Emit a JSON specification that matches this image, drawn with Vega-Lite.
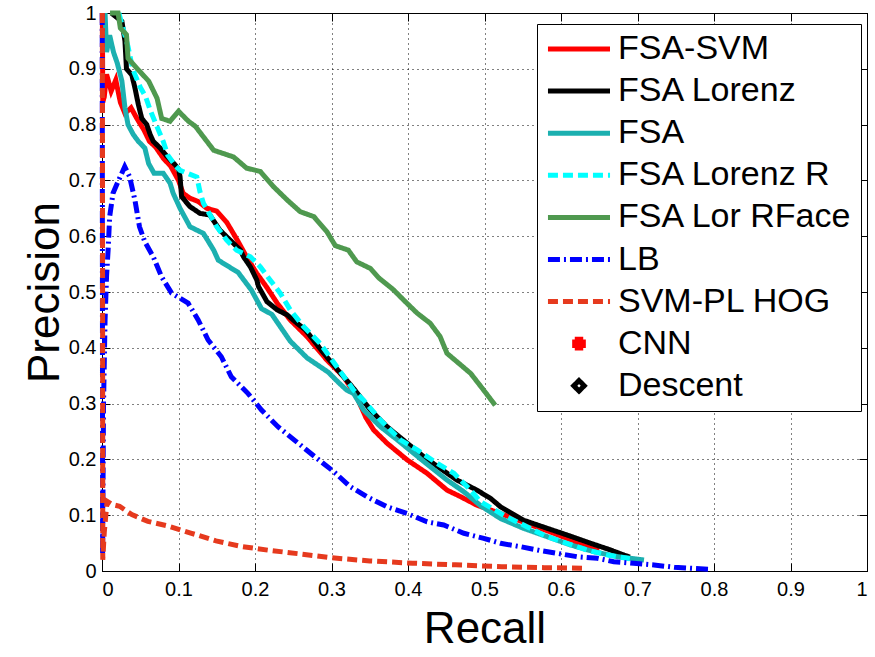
{
  "$schema": "https://vega.github.io/schema/vega-lite/v6.json",
  "width": 765,
  "height": 558,
  "autosize": "none",
  "padding": {"left": 102, "top": 13, "right": 8, "bottom": 86},
  "background": "white",
  "config": {
    "view": {"stroke": "black", "strokeWidth": 1},
    "axis": {
      "labelFont": "Liberation Sans", "labelFontSize": 20, "labelColor": "black",
      "titleFont": "Liberation Sans", "titleFontSize": 44, "titleFontWeight": "normal", "titleColor": "black",
      "domainColor": "black", "tickColor": "black", "tickSize": -8, "gridColor": "black", "gridDash": [1, 4], "gridOpacity": 1
    }
  },
  "data": {"values": [
    {"s":"FSA-SVM","x":0.0005,"y":1.0},{"s":"FSA-SVM","x":0.001,"y":0.84},{"s":"FSA-SVM","x":0.003,"y":0.85},{"s":"FSA-SVM","x":0.006,"y":0.89},{"s":"FSA-SVM","x":0.012,"y":0.86},{"s":"FSA-SVM","x":0.018,"y":0.88},{"s":"FSA-SVM","x":0.024,"y":0.84},{"s":"FSA-SVM","x":0.030,"y":0.82},{"s":"FSA-SVM","x":0.038,"y":0.83},{"s":"FSA-SVM","x":0.046,"y":0.81},{"s":"FSA-SVM","x":0.055,"y":0.79},{"s":"FSA-SVM","x":0.062,"y":0.77},{"s":"FSA-SVM","x":0.070,"y":0.76},{"s":"FSA-SVM","x":0.080,"y":0.74},{"s":"FSA-SVM","x":0.090,"y":0.725},{"s":"FSA-SVM","x":0.100,"y":0.70},{"s":"FSA-SVM","x":0.106,"y":0.677},{"s":"FSA-SVM","x":0.115,"y":0.668},{"s":"FSA-SVM","x":0.126,"y":0.662},{"s":"FSA-SVM","x":0.137,"y":0.650},{"s":"FSA-SVM","x":0.150,"y":0.645},{"s":"FSA-SVM","x":0.163,"y":0.625},{"s":"FSA-SVM","x":0.176,"y":0.595},{"s":"FSA-SVM","x":0.189,"y":0.563},{"s":"FSA-SVM","x":0.2025,"y":0.533},{"s":"FSA-SVM","x":0.2156,"y":0.508},{"s":"FSA-SVM","x":0.229,"y":0.480},{"s":"FSA-SVM","x":0.246,"y":0.45},{"s":"FSA-SVM","x":0.268,"y":0.42},{"s":"FSA-SVM","x":0.294,"y":0.378},{"s":"FSA-SVM","x":0.316,"y":0.348},{"s":"FSA-SVM","x":0.333,"y":0.312},{"s":"FSA-SVM","x":0.345,"y":0.275},{"s":"FSA-SVM","x":0.355,"y":0.253},{"s":"FSA-SVM","x":0.3726,"y":0.229},{"s":"FSA-SVM","x":0.399,"y":0.199},{"s":"FSA-SVM","x":0.425,"y":0.175},{"s":"FSA-SVM","x":0.451,"y":0.145},{"s":"FSA-SVM","x":0.469,"y":0.133},{"s":"FSA-SVM","x":0.490,"y":0.118},{"s":"FSA-SVM","x":0.521,"y":0.103},{"s":"FSA-SVM","x":0.556,"y":0.085},{"s":"FSA-SVM","x":0.59,"y":0.068},{"s":"FSA-SVM","x":0.62,"y":0.052},{"s":"FSA-SVM","x":0.65,"y":0.038},

    {"s":"FSA Lorenz","x":0.012,"y":1.0},{"s":"FSA Lorenz","x":0.026,"y":0.985},{"s":"FSA Lorenz","x":0.030,"y":0.95},{"s":"FSA Lorenz","x":0.032,"y":0.90},{"s":"FSA Lorenz","x":0.039,"y":0.889},{"s":"FSA Lorenz","x":0.043,"y":0.866},{"s":"FSA Lorenz","x":0.0475,"y":0.836},{"s":"FSA Lorenz","x":0.052,"y":0.811},{"s":"FSA Lorenz","x":0.0585,"y":0.80},{"s":"FSA Lorenz","x":0.063,"y":0.782},{"s":"FSA Lorenz","x":0.067,"y":0.77},{"s":"FSA Lorenz","x":0.076,"y":0.758},{"s":"FSA Lorenz","x":0.085,"y":0.743},{"s":"FSA Lorenz","x":0.0955,"y":0.728},{"s":"FSA Lorenz","x":0.100,"y":0.72},{"s":"FSA Lorenz","x":0.102,"y":0.707},{"s":"FSA Lorenz","x":0.104,"y":0.671},{"s":"FSA Lorenz","x":0.115,"y":0.653},{"s":"FSA Lorenz","x":0.128,"y":0.641},{"s":"FSA Lorenz","x":0.141,"y":0.638},{"s":"FSA Lorenz","x":0.154,"y":0.611},{"s":"FSA Lorenz","x":0.1675,"y":0.593},{"s":"FSA Lorenz","x":0.181,"y":0.575},{"s":"FSA Lorenz","x":0.185,"y":0.563},{"s":"FSA Lorenz","x":0.194,"y":0.545},{"s":"FSA Lorenz","x":0.2025,"y":0.521},{"s":"FSA Lorenz","x":0.2045,"y":0.51},{"s":"FSA Lorenz","x":0.2155,"y":0.483},{"s":"FSA Lorenz","x":0.229,"y":0.468},{"s":"FSA Lorenz","x":0.242,"y":0.459},{"s":"FSA Lorenz","x":0.255,"y":0.444},{"s":"FSA Lorenz","x":0.266,"y":0.432},{"s":"FSA Lorenz","x":0.290,"y":0.390},{"s":"FSA Lorenz","x":0.3115,"y":0.355},{"s":"FSA Lorenz","x":0.329,"y":0.327},{"s":"FSA Lorenz","x":0.351,"y":0.2885},{"s":"FSA Lorenz","x":0.3726,"y":0.2586},{"s":"FSA Lorenz","x":0.399,"y":0.229},{"s":"FSA Lorenz","x":0.4205,"y":0.205},{"s":"FSA Lorenz","x":0.442,"y":0.184},{"s":"FSA Lorenz","x":0.464,"y":0.163},{"s":"FSA Lorenz","x":0.490,"y":0.145},{"s":"FSA Lorenz","x":0.508,"y":0.130},{"s":"FSA Lorenz","x":0.521,"y":0.115},{"s":"FSA Lorenz","x":0.551,"y":0.091},{"s":"FSA Lorenz","x":0.582,"y":0.0765},{"s":"FSA Lorenz","x":0.608,"y":0.0645},{"s":"FSA Lorenz","x":0.639,"y":0.0496},{"s":"FSA Lorenz","x":0.665,"y":0.0376},{"s":"FSA Lorenz","x":0.682,"y":0.0287},{"s":"FSA Lorenz","x":0.69,"y":0.025},

    {"s":"FSA","x":0.004,"y":1.0},{"s":"FSA","x":0.006,"y":0.93},{"s":"FSA","x":0.010,"y":0.96},{"s":"FSA","x":0.015,"y":0.93},{"s":"FSA","x":0.020,"y":0.91},{"s":"FSA","x":0.026,"y":0.878},{"s":"FSA","x":0.030,"y":0.83},{"s":"FSA","x":0.034,"y":0.80},{"s":"FSA","x":0.041,"y":0.782},{"s":"FSA","x":0.0475,"y":0.77},{"s":"FSA","x":0.056,"y":0.758},{"s":"FSA","x":0.061,"y":0.73},{"s":"FSA","x":0.068,"y":0.713},{"s":"FSA","x":0.080,"y":0.713},{"s":"FSA","x":0.089,"y":0.695},{"s":"FSA","x":0.093,"y":0.677},{"s":"FSA","x":0.102,"y":0.65},{"s":"FSA","x":0.115,"y":0.617},{"s":"FSA","x":0.1326,"y":0.605},{"s":"FSA","x":0.146,"y":0.575},{"s":"FSA","x":0.152,"y":0.557},{"s":"FSA","x":0.178,"y":0.535},{"s":"FSA","x":0.1955,"y":0.503},{"s":"FSA","x":0.2085,"y":0.47},{"s":"FSA","x":0.222,"y":0.46},{"s":"FSA","x":0.230,"y":0.444},{"s":"FSA","x":0.246,"y":0.412},{"s":"FSA","x":0.268,"y":0.382},{"s":"FSA","x":0.296,"y":0.356},{"s":"FSA","x":0.309,"y":0.338},{"s":"FSA","x":0.320,"y":0.324},{"s":"FSA","x":0.329,"y":0.318},{"s":"FSA","x":0.342,"y":0.2885},{"s":"FSA","x":0.364,"y":0.2586},{"s":"FSA","x":0.386,"y":0.235},{"s":"FSA","x":0.4075,"y":0.211},{"s":"FSA","x":0.429,"y":0.187},{"s":"FSA","x":0.451,"y":0.163},{"s":"FSA","x":0.473,"y":0.142},{"s":"FSA","x":0.495,"y":0.117},{"s":"FSA","x":0.521,"y":0.094},{"s":"FSA","x":0.551,"y":0.0765},{"s":"FSA","x":0.582,"y":0.0615},{"s":"FSA","x":0.6126,"y":0.0466},{"s":"FSA","x":0.643,"y":0.0346},{"s":"FSA","x":0.674,"y":0.0256},{"s":"FSA","x":0.7085,"y":0.0197},

    {"s":"FSA Lorenz R","x":0.022,"y":1.0},{"s":"FSA Lorenz R","x":0.028,"y":0.97},{"s":"FSA Lorenz R","x":0.034,"y":0.94},{"s":"FSA Lorenz R","x":0.040,"y":0.90},{"s":"FSA Lorenz R","x":0.050,"y":0.867},{"s":"FSA Lorenz R","x":0.057,"y":0.85},{"s":"FSA Lorenz R","x":0.063,"y":0.826},{"s":"FSA Lorenz R","x":0.072,"y":0.796},{"s":"FSA Lorenz R","x":0.080,"y":0.77},{"s":"FSA Lorenz R","x":0.086,"y":0.745},{"s":"FSA Lorenz R","x":0.095,"y":0.728},{"s":"FSA Lorenz R","x":0.102,"y":0.718},{"s":"FSA Lorenz R","x":0.124,"y":0.706},{"s":"FSA Lorenz R","x":0.128,"y":0.68},{"s":"FSA Lorenz R","x":0.1326,"y":0.659},{"s":"FSA Lorenz R","x":0.150,"y":0.617},{"s":"FSA Lorenz R","x":0.163,"y":0.593},{"s":"FSA Lorenz R","x":0.176,"y":0.575},{"s":"FSA Lorenz R","x":0.194,"y":0.563},{"s":"FSA Lorenz R","x":0.207,"y":0.545},{"s":"FSA Lorenz R","x":0.220,"y":0.521},{"s":"FSA Lorenz R","x":0.233,"y":0.498},{"s":"FSA Lorenz R","x":0.246,"y":0.468},{"s":"FSA Lorenz R","x":0.2635,"y":0.438},{"s":"FSA Lorenz R","x":0.285,"y":0.408},{"s":"FSA Lorenz R","x":0.307,"y":0.366},{"s":"FSA Lorenz R","x":0.329,"y":0.324},{"s":"FSA Lorenz R","x":0.342,"y":0.306},{"s":"FSA Lorenz R","x":0.364,"y":0.2706},{"s":"FSA Lorenz R","x":0.390,"y":0.235},{"s":"FSA Lorenz R","x":0.412,"y":0.217},{"s":"FSA Lorenz R","x":0.438,"y":0.193},{"s":"FSA Lorenz R","x":0.46,"y":0.175},{"s":"FSA Lorenz R","x":0.4817,"y":0.145},{"s":"FSA Lorenz R","x":0.495,"y":0.124},{"s":"FSA Lorenz R","x":0.525,"y":0.100},{"s":"FSA Lorenz R","x":0.556,"y":0.079},{"s":"FSA Lorenz R","x":0.582,"y":0.0615},{"s":"FSA Lorenz R","x":0.608,"y":0.0496},{"s":"FSA Lorenz R","x":0.634,"y":0.0376},{"s":"FSA Lorenz R","x":0.661,"y":0.0287},{"s":"FSA Lorenz R","x":0.69,"y":0.022},

    {"s":"FSA Lor RFace","x":0.0105,"y":1.0},{"s":"FSA Lor RFace","x":0.021,"y":1.0},{"s":"FSA Lor RFace","x":0.024,"y":0.973},{"s":"FSA Lor RFace","x":0.032,"y":0.961},{"s":"FSA Lor RFace","x":0.034,"y":0.919},{"s":"FSA Lor RFace","x":0.0475,"y":0.898},{"s":"FSA Lor RFace","x":0.061,"y":0.878},{"s":"FSA Lor RFace","x":0.072,"y":0.847},{"s":"FSA Lor RFace","x":0.078,"y":0.811},{"s":"FSA Lor RFace","x":0.089,"y":0.806},{"s":"FSA Lor RFace","x":0.100,"y":0.824},{"s":"FSA Lor RFace","x":0.113,"y":0.806},{"s":"FSA Lor RFace","x":0.122,"y":0.797},{"s":"FSA Lor RFace","x":0.146,"y":0.754},{"s":"FSA Lor RFace","x":0.172,"y":0.742},{"s":"FSA Lor RFace","x":0.189,"y":0.722},{"s":"FSA Lor RFace","x":0.207,"y":0.716},{"s":"FSA Lor RFace","x":0.224,"y":0.689},{"s":"FSA Lor RFace","x":0.242,"y":0.665},{"s":"FSA Lor RFace","x":0.259,"y":0.644},{"s":"FSA Lor RFace","x":0.277,"y":0.635},{"s":"FSA Lor RFace","x":0.294,"y":0.608},{"s":"FSA Lor RFace","x":0.305,"y":0.583},{"s":"FSA Lor RFace","x":0.322,"y":0.575},{"s":"FSA Lor RFace","x":0.333,"y":0.554},{"s":"FSA Lor RFace","x":0.351,"y":0.542},{"s":"FSA Lor RFace","x":0.362,"y":0.525},{"s":"FSA Lor RFace","x":0.381,"y":0.504},{"s":"FSA Lor RFace","x":0.394,"y":0.486},{"s":"FSA Lor RFace","x":0.412,"y":0.462},{"s":"FSA Lor RFace","x":0.429,"y":0.444},{"s":"FSA Lor RFace","x":0.442,"y":0.420},{"s":"FSA Lor RFace","x":0.451,"y":0.390},{"s":"FSA Lor RFace","x":0.464,"y":0.375},{"s":"FSA Lor RFace","x":0.482,"y":0.354},{"s":"FSA Lor RFace","x":0.499,"y":0.324},{"s":"FSA Lor RFace","x":0.514,"y":0.297},

    {"s":"LB","x":0.0003,"y":1.0},{"s":"LB","x":0.0008,"y":0.03},{"s":"LB","x":0.002,"y":0.3},{"s":"LB","x":0.004,"y":0.45},{"s":"LB","x":0.006,"y":0.53},{"s":"LB","x":0.008,"y":0.575},{"s":"LB","x":0.010,"y":0.635},{"s":"LB","x":0.0144,"y":0.677},{"s":"LB","x":0.021,"y":0.698},{"s":"LB","x":0.0297,"y":0.7245},{"s":"LB","x":0.036,"y":0.707},{"s":"LB","x":0.043,"y":0.665},{"s":"LB","x":0.049,"y":0.617},{"s":"LB","x":0.056,"y":0.590},{"s":"LB","x":0.067,"y":0.563},{"s":"LB","x":0.078,"y":0.527},{"s":"LB","x":0.091,"y":0.498},{"s":"LB","x":0.1126,"y":0.480},{"s":"LB","x":0.1257,"y":0.45},{"s":"LB","x":0.1387,"y":0.414},{"s":"LB","x":0.156,"y":0.384},{"s":"LB","x":0.169,"y":0.348},{"s":"LB","x":0.191,"y":0.318},{"s":"LB","x":0.2085,"y":0.2885},{"s":"LB","x":0.230,"y":0.2586},{"s":"LB","x":0.2565,"y":0.229},{"s":"LB","x":0.278,"y":0.205},{"s":"LB","x":0.303,"y":0.178},{"s":"LB","x":0.3246,"y":0.151},{"s":"LB","x":0.3465,"y":0.133},{"s":"LB","x":0.3726,"y":0.115},{"s":"LB","x":0.399,"y":0.103},{"s":"LB","x":0.425,"y":0.088},{"s":"LB","x":0.4467,"y":0.0824},{"s":"LB","x":0.473,"y":0.0676},{"s":"LB","x":0.499,"y":0.0586},{"s":"LB","x":0.521,"y":0.0496},{"s":"LB","x":0.547,"y":0.0436},{"s":"LB","x":0.573,"y":0.0366},{"s":"LB","x":0.595,"y":0.0317},{"s":"LB","x":0.621,"y":0.0256},{"s":"LB","x":0.6475,"y":0.0227},{"s":"LB","x":0.669,"y":0.0167},{"s":"LB","x":0.695,"y":0.0138},{"s":"LB","x":0.7216,"y":0.0108},{"s":"LB","x":0.748,"y":0.0066},{"s":"LB","x":0.770,"y":0.0048},{"s":"LB","x":0.796,"y":0.003},

    {"s":"SVM-PL HOG","x":0.0005,"y":1.0},{"s":"SVM-PL HOG","x":0.001,"y":0.02},{"s":"SVM-PL HOG","x":0.003,"y":0.07},{"s":"SVM-PL HOG","x":0.0043,"y":0.089},{"s":"SVM-PL HOG","x":0.0066,"y":0.125},{"s":"SVM-PL HOG","x":0.0136,"y":0.119},{"s":"SVM-PL HOG","x":0.023,"y":0.116},{"s":"SVM-PL HOG","x":0.039,"y":0.101},{"s":"SVM-PL HOG","x":0.060,"y":0.089},{"s":"SVM-PL HOG","x":0.088,"y":0.080},{"s":"SVM-PL HOG","x":0.116,"y":0.068},{"s":"SVM-PL HOG","x":0.149,"y":0.054},{"s":"SVM-PL HOG","x":0.182,"y":0.044},{"s":"SVM-PL HOG","x":0.219,"y":0.037},{"s":"SVM-PL HOG","x":0.2565,"y":0.031},{"s":"SVM-PL HOG","x":0.298,"y":0.024},{"s":"SVM-PL HOG","x":0.350,"y":0.018},{"s":"SVM-PL HOG","x":0.406,"y":0.014},{"s":"SVM-PL HOG","x":0.462,"y":0.011},{"s":"SVM-PL HOG","x":0.5225,"y":0.0078},{"s":"SVM-PL HOG","x":0.578,"y":0.006},{"s":"SVM-PL HOG","x":0.630,"y":0.0048}
  ]},
  "resolve": {"axis": {"x": "independent", "y": "independent"}},
  "layer": [
    {
      "mark": {"type": "line", "strokeCap": "butt", "strokeJoin": "miter"},
      "encoding": {
        "x": {"field": "x", "type": "quantitative", "scale": {"domain": [0, 1], "nice": false, "zero": false},
              "axis": {"orient": "bottom", "values": [0,0.1,0.2,0.3,0.4,0.5,0.6,0.7,0.8,0.9,1], "format": ".1~f", "grid": true, "title": "Recall", "labelPadding": 16, "titlePadding": 8}},
        "y": {"field": "y", "type": "quantitative", "scale": {"domain": [0, 1], "nice": false, "zero": false},
              "axis": {"orient": "left", "values": [0,0.1,0.2,0.3,0.4,0.5,0.6,0.7,0.8,0.9,1], "format": ".1~f", "grid": true, "title": "Precision", "labelPadding": 14, "titlePadding": 1}},
        "color": {"field": "s", "type": "nominal",
          "scale": {"domain": ["FSA-SVM","FSA Lorenz","FSA","FSA Lorenz R","FSA Lor RFace","LB","SVM-PL HOG","CNN","Descent"],
                    "range": ["#FF0000","#000000","#1CB0B0","#00FFFF","#4F994F","#0000FF","#E63A1E","#FF0000","#000000"]},
          "legend": {"title": null, "orient": "none", "legendX": 435, "legendY": 11,
            "strokeColor": "black", "fillColor": "white", "padding": 8,
            "labelFont": "Liberation Sans", "labelFontSize": 34, "labelColor": "black", "labelLimit": 0,
            "symbolType": "M-3,0H3", "symbolSize": 428, "symbolStrokeWidth": 5, "symbolOffset": 17, "labelOffset": 22, "rowPadding": 8.1,
            "encode": {"symbols": {"update": {
              "shape": {"signal": "datum.value === 'CNN' ? 'cross' : datum.value === 'Descent' ? 'diamond' : 'M-3,0H3'"},
              "size": {"signal": "datum.value === 'CNN' ? 75 : datum.value === 'Descent' ? 110 : 428"},
              "fill": {"signal": "datum.value === 'CNN' ? '#FF0000' : datum.value === 'Descent' ? '#FFFFFF' : 'transparent'"},
              "fillOpacity": {"value": 1},
              "strokeWidth": {"signal": "datum.value === 'CNN' ? 0 : 5"}
            }}}
          }},
        "strokeDash": {"field": "s", "type": "nominal",
          "scale": {"domain": ["FSA-SVM","FSA Lorenz","FSA","FSA Lorenz R","FSA Lor RFace","LB","SVM-PL HOG","CNN","Descent"],
                    "range": [[1,0],[1,0],[1,0],[10,5],[1,0],[12,4,2,4],[10,5],[1,0],[1,0]]}},
        "strokeWidth": {"field": "s", "type": "nominal", "legend": null,
          "scale": {"domain": ["FSA-SVM","FSA Lorenz","FSA","FSA Lorenz R","FSA Lor RFace","LB","SVM-PL HOG","CNN","Descent"],
                    "range": [5,5,7,5.5,7,5,5,1,1]}}
      }
    },
    {
      "mark": {"type": "point", "opacity": 0},
      "encoding": {
        "x": {"field": "x", "type": "quantitative", "axis": {"orient": "top", "values": [0,0.1,0.2,0.3,0.4,0.5,0.6,0.7,0.8,0.9,1], "labels": false, "grid": false, "title": null}},
        "y": {"field": "y", "type": "quantitative", "axis": {"orient": "right", "values": [0,0.1,0.2,0.3,0.4,0.5,0.6,0.7,0.8,0.9,1], "labels": false, "grid": false, "title": null}}
      }
    }
  ]
}
